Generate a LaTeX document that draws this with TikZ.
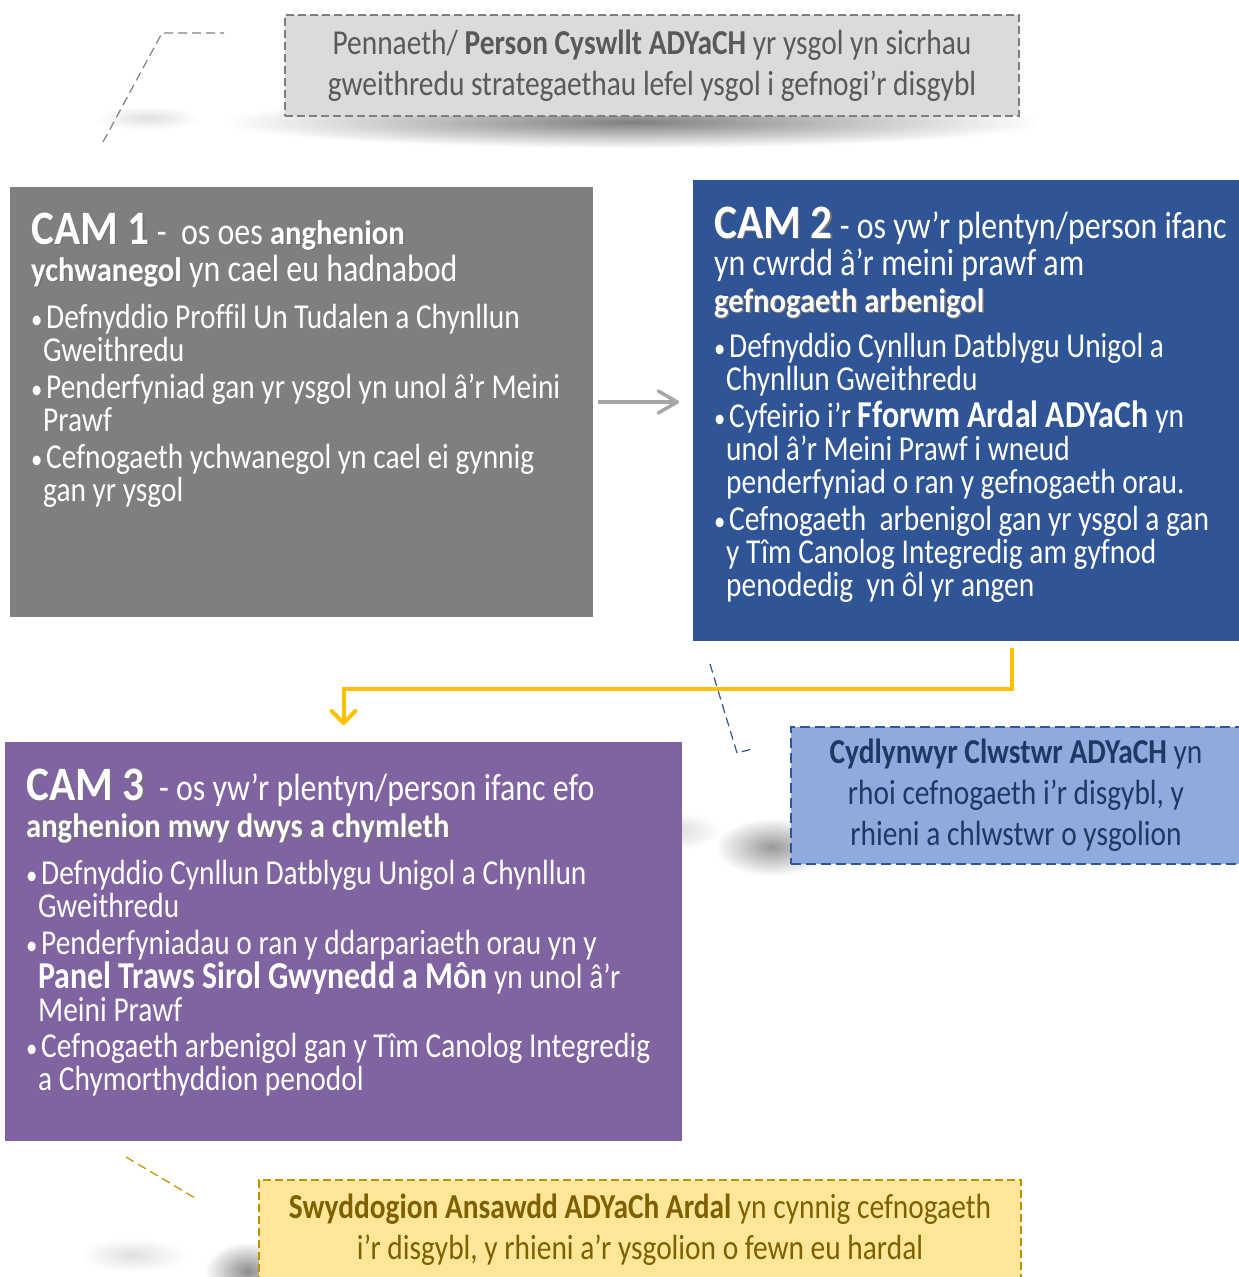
\documentclass[tikz,border=0pt]{standalone}
\usepackage{fontspec}
\setmainfont[FakeStretch=0.84, Ligatures=NoCommon]{Carlito}
\newfontfamily\camfont[FakeStretch=0.9]{Carlito}
\usetikzlibrary{arrows.meta,fadings}

\definecolor{leadgray}{HTML}{DBDBDB}
\definecolor{leadtext}{HTML}{595959}
\definecolor{stepgray}{HTML}{7F7F7F}
\definecolor{stepblue}{HTML}{2F5597}
\definecolor{steppurple}{HTML}{8064A2}
\definecolor{clusterblue}{HTML}{8FAADC}
\definecolor{clustertext}{HTML}{1F3864}
\definecolor{qualyellow}{HTML}{FFE699}
\definecolor{qualedge}{HTML}{BF9000}
\definecolor{qualtext}{HTML}{7F6000}
\definecolor{flowgold}{HTML}{FFC000}
\definecolor{arrowgray}{HTML}{A6A6A6}

\tikzfading[name=softblob, inner color=transparent!0, outer color=transparent!100]

\newcommand\linesnug{\lineskiplimit=-50pt\relax}
\newcommand\shad[1]{\rlap{\kern1.5pt\raisebox{-1.5pt}{\textcolor{black!55}{#1}}}#1}
\newcommand\camno[1]{{\camfont\bfseries\fontsize{48}{37}\selectfont\shad{#1}}}
\newcommand\keyw[1]{{\camfont\bfseries\fontsize{34}{37}\selectfont\shad{#1}}}
\newcommand\bfkey[1]{{\bfseries\fontsize{38}{33}\selectfont #1}}
\newcommand\bul{\makebox[15pt][l]{\fontsize{27}{0}\selectfont\textbullet}}
\newcommand\cont{\hspace*{12pt}}

\begin{document}
\begin{tikzpicture}[x=1pt, y=-1pt,
  box/.style={rectangle, inner sep=0, outer sep=0, anchor=north west},
  dashbox/.style={draw, line width=1.5pt, dash pattern=on 8pt off 4pt},
  calltext/.style={inner sep=0, align=center, font=\fontsize{35}{41}\selectfont\linesnug},
  steptitle/.style={anchor=north west, inner sep=0, align=left, text=white, font=\fontsize{38}{37}\selectfont\linesnug},
  steplist/.style={anchor=north west, inner sep=0, align=left, text=white, font=\fontsize{35}{33}\selectfont\linesnug},
  leader/.style={line width=1.2pt, dash pattern=on 9pt off 5pt},
  blob/.style={fill=black, path fading=softblob}]
\useasboundingbox (0,0) rectangle (1239,1277);
\clip (0,0) rectangle (1239,1277);

% soft shadows
\fill[blob, opacity=0.5] (225,96) rectangle (1040,148);
\fill[blob, opacity=0.12] (95,106) rectangle (200,130);
\fill[blob, opacity=0.15] (625,812) rectangle (720,850);
\fill[blob, opacity=0.4] (715,818) rectangle (830,876);
\fill[blob, opacity=0.12] (80,1238) rectangle (185,1272);
\fill[blob, opacity=0.45] (205,1242) rectangle (290,1300);

% boxes
\node[box, dashbox, draw=stepgray, fill=leadgray, minimum width=734pt, minimum height=101pt] (lead) at (285,15) {};
\node[box, fill=stepgray, minimum width=583pt, minimum height=430pt] (cam1) at (10,187) {};
\node[box, fill=stepblue, minimum width=552pt, minimum height=461pt] (cam2) at (693,180) {};
\node[box, fill=steppurple, minimum width=677pt, minimum height=399pt] (cam3) at (5,742) {};
\node[box, dashbox, draw=stepblue, fill=clusterblue, line width=2pt, dash pattern=on 10pt off 5pt, minimum width=451pt, minimum height=137pt] (cluster) at (791,727) {};
\node[box, dashbox, draw=qualedge, fill=qualyellow, minimum width=762pt, minimum height=120pt] (qual) at (259,1180) {};

% leaders
\coordinate (leadA) at (103,142);
\coordinate (leadB) at (162,33);
\coordinate (leadC) at (224,33);
\draw[leader, stepgray] (leadA) -- (leadB) -- (leadC);
\coordinate (clusterA) at (710,664);
\coordinate (clusterB) at (737,753);
\coordinate (clusterC) at (752,749);
\draw[leader, stepblue] (clusterA) -- (clusterB) -- (clusterC);
\coordinate (qualA) at (126,1157);
\coordinate (qualB) at (195,1198);
\draw[leader, qualedge] (qualA) -- (qualB);

% flow
\draw[arrowgray, line width=3.5pt, -{Straight Barb[length=19pt,width=22pt,round]}, shorten <=5pt, shorten >=14pt] (cam1.east) -- (cam1.east -| cam2.west);
\draw[flowgold, line width=4pt, -{Straight Barb[length=12pt,width=24pt,round]}, shorten >=17pt] ([xshift=43pt]cam2.south) ++(0,7) -- ++(0,41) -| (cam3.north);

% texts
\node[calltext, text=leadtext] (leadnote) at (lead.center) {Pennaeth/ \textbf{Person Cyswllt ADYaCH} yr ysgol yn sicrhau\\ gweithredu strategaethau lefel ysgol i gefnogi’r disgybl};

\node[steptitle] (cam1head) at (31,212) {\rule{0pt}{32pt}\camno{CAM 1} -\ \ os oes \keyw{anghenion}\\ \keyw{ychwanegol} yn cael eu hadnabod};
\node[steplist] (cam1list) at (31,301) {\rule{0pt}{27pt}\bul Defnyddio Proffil Un Tudalen a Chynllun\\
\cont Gweithredu\\[4pt]
\bul Penderfyniad gan yr ysgol yn unol â’r Meini\\
\cont Prawf\\[4pt]
\bul Cefnogaeth ychwanegol yn cael ei gynnig\\
\cont gan yr ysgol};

\node[steptitle] (cam2head) at (714,206) {\rule{0pt}{32pt}\camno{CAM 2} - os yw’r plentyn/person ifanc\\ yn cwrdd â’r meini prawf am\\ \keyw{gefnogaeth arbenigol}};
\node[steplist] (cam2list) at (714,330) {\rule{0pt}{27pt}\bul Defnyddio Cynllun Datblygu Unigol a\\
\cont Chynllun Gweithredu\\[4pt]
\bul Cyfeirio i’r \bfkey{Fforwm Ardal ADYaCh} yn\\
\cont unol â’r Meini Prawf i wneud\\
\cont penderfyniad o ran y gefnogaeth orau.\\[4pt]
\bul Cefnogaeth\ \ arbenigol gan yr ysgol a gan\\
\cont y Tîm Canolog Integredig am gyfnod\\
\cont penodedig\ \ yn ôl yr angen};

\node[steptitle] (cam3head) at (26,768) {\rule{0pt}{32pt}\camno{CAM 3}\ \ - os yw’r plentyn/person ifanc efo\\ \keyw{anghenion mwy dwys a chymleth}};
\node[steplist] (cam3list) at (26,857) {\rule{0pt}{27pt}\bul Defnyddio Cynllun Datblygu Unigol a Chynllun\\
\cont Gweithredu\\[4pt]
\bul Penderfyniadau o ran y ddarpariaeth orau yn y\\[1pt]
\cont \bfkey{Panel Traws Sirol Gwynedd a Môn} yn unol â’r\\
\cont Meini Prawf\\[3pt]
\bul Cefnogaeth arbenigol gan y Tîm Canolog Integredig\\
\cont a Chymorthyddion penodol};

\node[calltext, text=clustertext] (clusternote) at (1016,795.5) {\textbf{Cydlynwyr Clwstwr ADYaCH} yn\\ rhoi cefnogaeth i’r disgybl, y\\ rhieni a chlwstwr o ysgolion};
\node[calltext, anchor=north, text=qualtext] (qualnote) at (640,1190) {\rule{0pt}{28pt}\textbf{Swyddogion Ansawdd ADYaCh Ardal} yn cynnig cefnogaeth\\ i’r disgybl, y rhieni a’r ysgolion o fewn eu hardal};
\end{tikzpicture}
\end{document}
